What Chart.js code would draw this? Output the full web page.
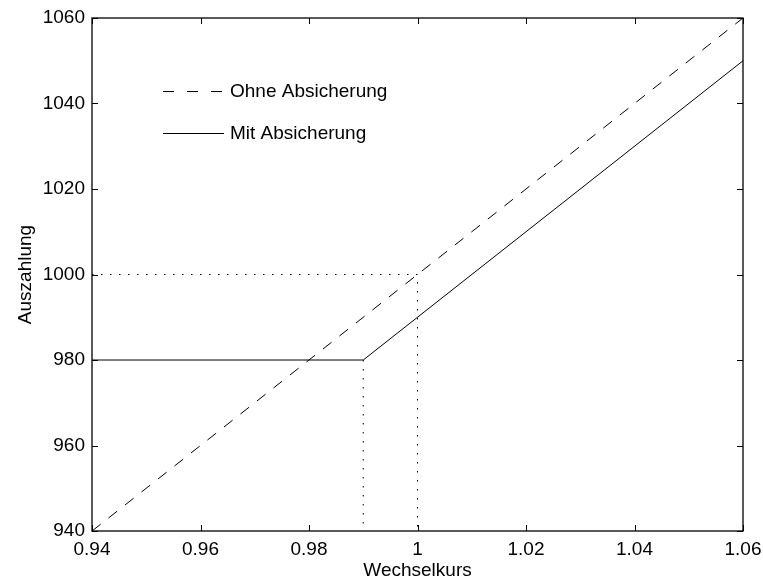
<!DOCTYPE html>
<html lang="de">
<head>
<meta charset="utf-8">
<title>Auszahlung / Wechselkurs</title>
<script src="https://cdn.jsdelivr.net/npm/chart.js@4.4.1/dist/chart.umd.min.js"></script>
<style>
    html, body { margin: 0; padding: 0; background: #fff; }
    #contenedor { width: 763px; height: 582px; position: relative; }
</style>
</head>
<body>
<div id="contenedor"><canvas id="grafica"></canvas></div>
<script>
/* -----------------------------
   DATEN
----------------------------- */
const kursOhne = [0.94, 1.06];
const zahlungOhne = [940, 1060];

const kursMit = [0.94, 0.99, 1.06];
const zahlungMit = [980, 980, 1050];

// gepunktete Hilfslinien
const hilfeKurs1 = [0.94, 1.00, 1.00];
const hilfeZahlung1 = [1000, 1000, 940];
const hilfeKurs2 = [0.99, 0.99];
const hilfeZahlung2 = [980, 940];

const xTicks = [0.94, 0.96, 0.98, 1.00, 1.02, 1.04, 1.06];
const xTickLabels = ["0.94", "0.96", "0.98", "1", "1.02", "1.04", "1.06"];
const yTicks = [940, 960, 980, 1000, 1020, 1040, 1060];
const yTickLabels = ["940", "960", "980", "1000", "1020", "1040", "1060"];

const legendeTexte = ["Ohne Absicherung", "Mit Absicherung"];

/* -----------------------------
   HILFSFUNKTIONEN
----------------------------- */
const FONT = "'Liberation Sans', Arial, Helvetica, sans-serif";
const FONT_SIZE = 19;

function punkte(xs, ys) {
    return xs.map((x, i) => ({ x: x, y: ys[i] }));
}

function linie(label, xs, ys, dash, legende) {
    return {
        label: label,
        data: punkte(xs, ys),
        borderColor: "#000",
        borderWidth: 1,
        borderDash: dash,
        pointRadius: 0,
        tension: 0,
        fill: false,
        legende: legende
    };
}

/* -----------------------------
   PLUGIN: Rahmen, Ticks, Legende
----------------------------- */
const rahmenPlugin = {
    id: "rahmen",
    afterDatasetsDraw(chart) {
        const { ctx, chartArea, scales } = chart;
        const { left, right, top, bottom } = chartArea;
        const tl = 6;

        ctx.save();
        ctx.strokeStyle = "#000";
        ctx.lineWidth = 1;
        ctx.setLineDash([]);

        ctx.beginPath();
        xTicks.forEach(v => {
            const px = Math.round(scales.x.getPixelForValue(v)) + 0.5;
            ctx.moveTo(px, bottom);
            ctx.lineTo(px, bottom - tl);
            ctx.moveTo(px, top);
            ctx.lineTo(px, top + tl);
        });
        yTicks.forEach(v => {
            const py = Math.round(scales.y.getPixelForValue(v)) + 0.5;
            ctx.moveTo(left, py);
            ctx.lineTo(left + tl, py);
            ctx.moveTo(right, py);
            ctx.lineTo(right - tl, py);
        });
        ctx.stroke();

        ctx.lineWidth = 1.3;
        ctx.strokeRect(left, top, right - left, bottom - top);

        // Legende
        const zeilen = [91, 133];
        ctx.font = FONT_SIZE + "px " + FONT;
        ctx.fillStyle = "#000";
        ctx.textBaseline = "middle";
        ctx.textAlign = "left";
        ctx.lineWidth = 1;
        const eintraege = chart.data.datasets.filter(d => d.legende);
        eintraege.forEach((d, i) => {
            const y = zeilen[i] + 0.5;
            ctx.setLineDash(d.legendDash || []);
            ctx.beginPath();
            ctx.moveTo(163, y);
            ctx.lineTo(224, y);
            ctx.stroke();
            ctx.fillText(d.label, 230, zeilen[i] + 1);
        });
        ctx.restore();
    }
};

/* -----------------------------
   DIAGRAMM
----------------------------- */
const ohne = linie(legendeTexte[0], kursOhne, zahlungOhne, [11, 10], true);
ohne.legendDash = [11, 13];
const mit = linie(legendeTexte[1], kursMit, zahlungMit, [], true);
const hilfe1 = linie("h1", hilfeKurs1, hilfeZahlung1, [1.5, 7.5], false);
const hilfe2 = linie("h2", hilfeKurs2, hilfeZahlung2, [1.5, 7.5], false);

new Chart(document.getElementById("grafica"), {
    type: "line",
    data: { datasets: [hilfe1, hilfe2, ohne, mit] },
    options: {
        responsive: true,
        maintainAspectRatio: false,
        animation: false,
        devicePixelRatio: 1,
        layout: { padding: { left: 0, top: 18, right: 20, bottom: 0 } },
        plugins: {
            legend: { display: false },
            tooltip: { enabled: false }
        },
        scales: {
            x: {
                type: "linear",
                min: 0.94,
                max: 1.06,
                grid: { display: false, drawTicks: false },
                border: { display: false },
                afterBuildTicks: (s) => { s.ticks = xTicks.map(v => ({ value: v })); },
                afterFit: (s) => { s.height = 51; s.paddingLeft = 0; s.paddingRight = 0; },
                ticks: {
                    color: "#000",
                    font: { family: FONT, size: FONT_SIZE },
                    padding: 7,
                    maxRotation: 0,
                    autoSkip: false,
                    callback: (v, i) => xTickLabels[i]
                },
                title: {
                    display: true,
                    text: "Wechselkurs",
                    color: "#000",
                    font: { family: FONT, size: FONT_SIZE },
                    padding: { top: 0, bottom: 0 }
                }
            },
            y: {
                type: "linear",
                min: 940,
                max: 1060,
                grid: { display: false, drawTicks: false },
                border: { display: false },
                afterBuildTicks: (s) => { s.ticks = yTicks.map(v => ({ value: v })); },
                afterFit: (s) => { s.width = 92; s.paddingTop = 0; s.paddingBottom = 0; },
                ticks: {
                    color: "#000",
                    font: { family: FONT, size: FONT_SIZE },
                    padding: 7,
                    autoSkip: false,
                    callback: (v, i) => yTickLabels[i]
                },
                title: {
                    display: true,
                    text: "Auszahlung",
                    color: "#000",
                    font: { family: FONT, size: FONT_SIZE },
                    padding: { top: 14, bottom: 0 }
                }
            }
        }
    },
    plugins: [rahmenPlugin]
});
</script>
</body>
</html>
